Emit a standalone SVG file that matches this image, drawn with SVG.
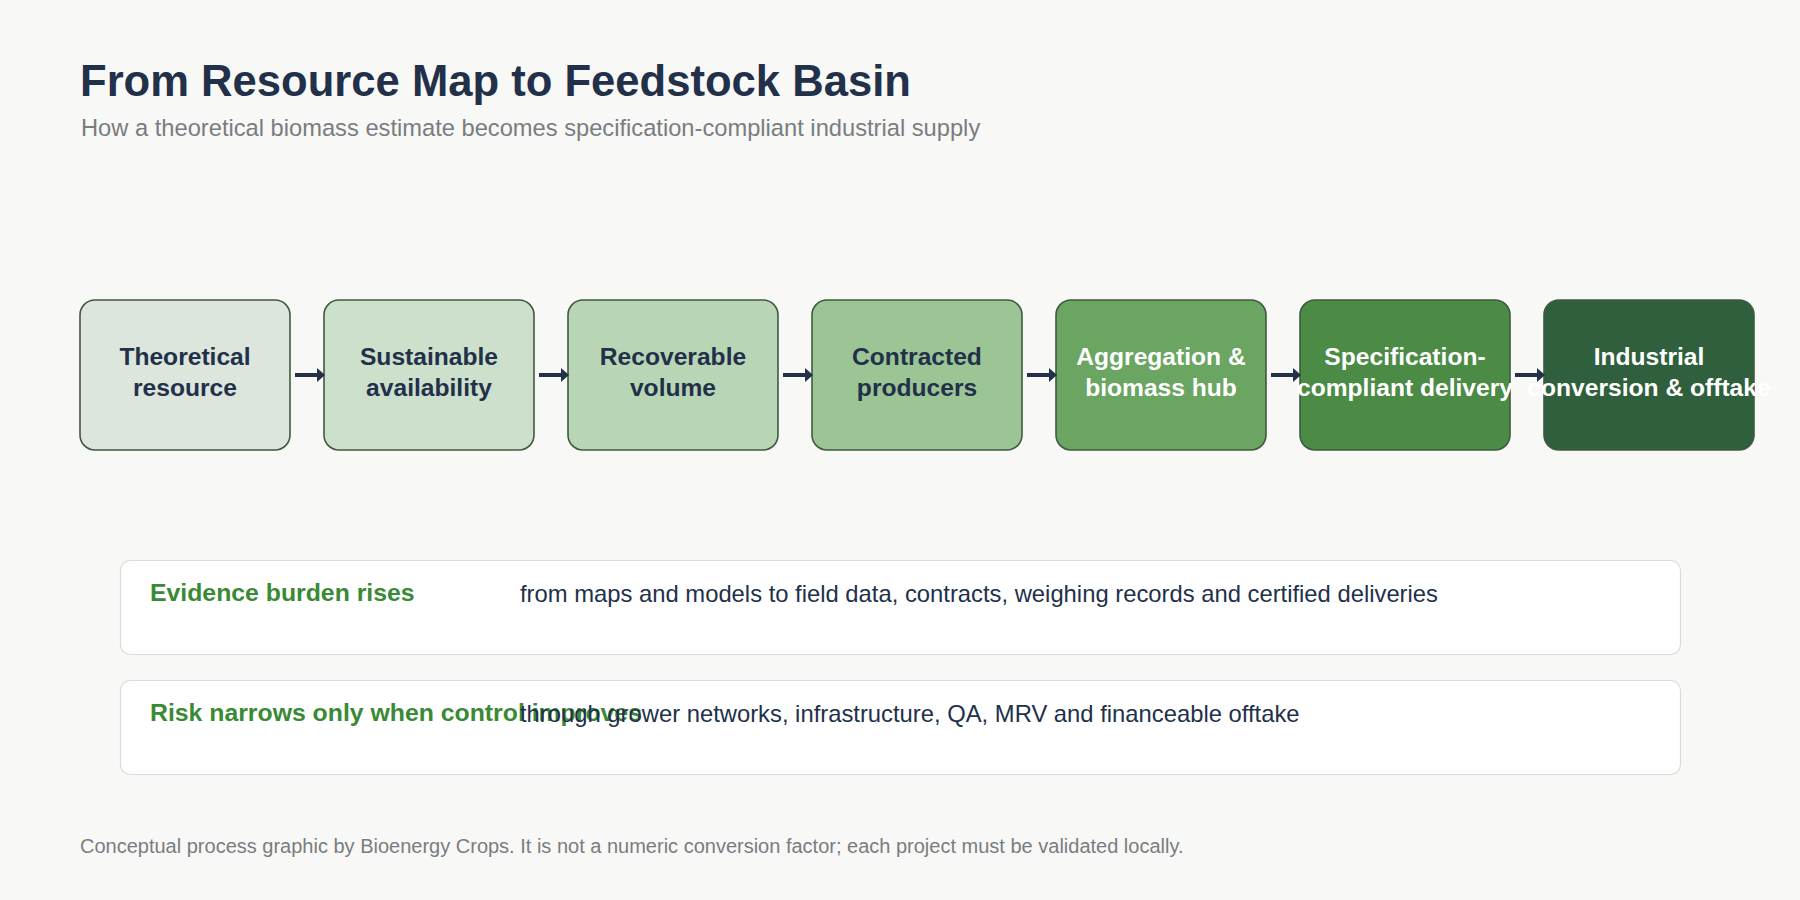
<svg xmlns="http://www.w3.org/2000/svg" width="1800" height="900" viewBox="0 0 1800 900">
<defs>
<style>
text{font-family:"Liberation Sans",Arial,sans-serif}
.title{font-size:43.6px;font-weight:bold;fill:#22304a}
.sub{font-size:23.7px;fill:#7a7d80}
.node rect{stroke:#3f5a40;stroke-width:1.6}
.lbl{font-size:24.6px;font-weight:bold;text-anchor:middle}
.dark{fill:#22304a}
.light{fill:#ffffff}
.panel{fill:#ffffff;stroke:#d9dcd9;stroke-width:1.2}
.plbl{font-size:24.8px;font-weight:bold;fill:#3a8a35}
.pdesc{font-size:23.8px;fill:#22304a}
.foot{font-size:20px;fill:#7a7d80}
.conn line{stroke:#22304a;stroke-width:4}
</style>
<marker id="ah" viewBox="0 0 8 14" refX="1" refY="7" markerWidth="8" markerHeight="14" markerUnits="userSpaceOnUse" orient="auto">
<path d="M0,0 L8,7 L0,14 z" fill="#22304a"/>
</marker>
</defs>
<rect width="1800" height="900" fill="#f8f8f6"/>
<text class="title" x="80" y="96">From Resource Map to Feedstock Basin</text>
<text class="sub" x="81" y="136">How a theoretical biomass estimate becomes specification-compliant industrial supply</text>

<g id="n1" class="node"><rect x="80" y="300" width="210" height="150" rx="15" fill="#dce6dc"/><text class="lbl dark" x="185" y="365">Theoretical</text><text class="lbl dark" x="185" y="396">resource</text></g>
<g id="n2" class="node"><rect x="324" y="300" width="210" height="150" rx="15" fill="#cde0cb"/><text class="lbl dark" x="429" y="365">Sustainable</text><text class="lbl dark" x="429" y="396">availability</text></g>
<g id="n3" class="node"><rect x="568" y="300" width="210" height="150" rx="15" fill="#b8d6b5"/><text class="lbl dark" x="673" y="365">Recoverable</text><text class="lbl dark" x="673" y="396">volume</text></g>
<g id="n4" class="node"><rect x="812" y="300" width="210" height="150" rx="15" fill="#9cc595"/><text class="lbl dark" x="917" y="365">Contracted</text><text class="lbl dark" x="917" y="396">producers</text></g>
<g id="n5" class="node"><rect x="1056" y="300" width="210" height="150" rx="15" fill="#6aa562"/><text class="lbl light" x="1161" y="365">Aggregation &amp;</text><text class="lbl light" x="1161" y="396">biomass hub</text></g>
<g id="n6" class="node"><rect x="1300" y="300" width="210" height="150" rx="15" fill="#4b8b45"/><text class="lbl light" x="1405" y="365">Specification-</text><text class="lbl light" x="1405" y="396">compliant delivery</text></g>
<g id="n7" class="node"><rect x="1544" y="300" width="210" height="150" rx="15" fill="#2f5f3c"/><text class="lbl light" x="1649" y="365">Industrial</text><text class="lbl light" x="1649" y="396">conversion &amp; offtake</text></g>

<g id="connectors" class="conn">
<line x1="295" y1="375" x2="318" y2="375" marker-end="url(#ah)"/>
<line x1="539" y1="375" x2="562" y2="375" marker-end="url(#ah)"/>
<line x1="783" y1="375" x2="806" y2="375" marker-end="url(#ah)"/>
<line x1="1027" y1="375" x2="1050" y2="375" marker-end="url(#ah)"/>
<line x1="1271" y1="375" x2="1294" y2="375" marker-end="url(#ah)"/>
<line x1="1515" y1="375" x2="1538" y2="375" marker-end="url(#ah)"/>
</g>

<g id="panel1"><rect class="panel" x="120.5" y="560.5" width="1560" height="94" rx="10"/><text class="plbl" x="150" y="601">Evidence burden rises</text><text class="pdesc" x="520" y="602">from maps and models to field data, contracts, weighing records and certified deliveries</text></g>
<g id="panel2"><rect class="panel" x="120.5" y="680.5" width="1560" height="94" rx="10"/><text class="plbl" x="150" y="721">Risk narrows only when control improves</text><text class="pdesc" x="520" y="722">through grower networks, infrastructure, QA, MRV and financeable offtake</text></g>

<text class="foot" x="80" y="853">Conceptual process graphic by Bioenergy Crops. It is not a numeric conversion factor; each project must be validated locally.</text>
</svg>
